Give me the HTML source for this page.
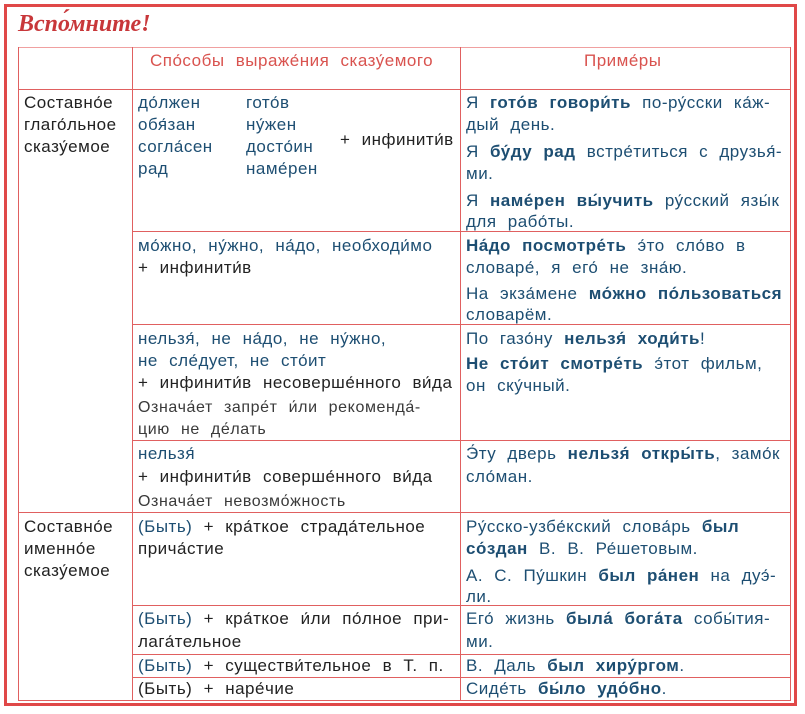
<!DOCTYPE html>
<html><head><meta charset="utf-8"><style>
body{margin:0;width:805px;height:714px;background:#fff;position:relative;overflow:hidden;font-family:"Liberation Sans","DejaVu Sans",sans-serif;}
.frame{position:absolute;left:4px;top:4px;width:793px;height:702px;border:3px solid #e04848;box-sizing:border-box;}
.h{position:absolute;height:1px;background:#e06060;}
.v{position:absolute;width:1px;background:#e06060;}
.t{position:absolute;font-size:17px;line-height:22px;white-space:nowrap;word-spacing:6px;letter-spacing:0.5px;color:#222;}
.b{color:#1d4e72}
.g{color:#3a3a3a;font-size:16px;letter-spacing:0.6px}
b{color:#1d4e72}
.title{position:absolute;left:18px;top:11px;font-family:"Liberation Serif",serif;font-style:italic;font-weight:bold;font-size:24px;color:#c8373a;}
.hd{position:absolute;color:#d9534f;font-size:17px;line-height:22px;word-spacing:6px;letter-spacing:0.5px;white-space:nowrap}
</style></head><body>
<div class="frame"></div>
<div class="title">Вспо́мните!</div>
<div class="h" style="left:18px;top:47px;width:773px;background:#f0a0a0"></div>
<div class="h" style="left:18px;top:89px;width:773px"></div>
<div class="h" style="left:132px;top:231px;width:659px"></div>
<div class="h" style="left:132px;top:324px;width:659px"></div>
<div class="h" style="left:132px;top:440px;width:659px"></div>
<div class="h" style="left:18px;top:512px;width:773px"></div>
<div class="h" style="left:132px;top:605px;width:659px"></div>
<div class="h" style="left:132px;top:654px;width:659px"></div>
<div class="h" style="left:132px;top:677px;width:659px"></div>
<div class="h" style="left:18px;top:700px;width:773px"></div>
<div class="v" style="left:18px;top:47px;height:654px"></div>
<div class="v" style="left:132px;top:47px;height:654px"></div>
<div class="v" style="left:460px;top:47px;height:654px"></div>
<div class="v" style="left:790px;top:47px;height:654px"></div>

<div class="hd" style="left:150px;top:50px">Спо́собы выраже́ния сказу́емого</div>
<div class="hd" style="left:584px;top:50px">Приме́ры</div>

<div class="t" style="left:24px;top:92px">Составно́е</div>
<div class="t" style="left:24px;top:114px">глаго́льное</div>
<div class="t" style="left:24px;top:136px">сказу́емое</div>

<div class="t b" style="left:138px;top:92px">до́лжен</div>
<div class="t b" style="left:138px;top:114px">обя́зан</div>
<div class="t b" style="left:138px;top:136px">согла́сен</div>
<div class="t b" style="left:138px;top:158px">рад</div>
<div class="t b" style="left:246px;top:92px">гото́в</div>
<div class="t b" style="left:246px;top:114px">ну́жен</div>
<div class="t b" style="left:246px;top:136px">досто́ин</div>
<div class="t b" style="left:246px;top:158px">наме́рен</div>
<div class="t" style="left:340px;top:129px">+ инфинити́в</div>

<div class="t b" style="left:466px;top:92px">Я <b>гото́в говори́ть</b> по-ру́сски ка́ж-</div>
<div class="t b" style="left:466px;top:114px">дый день.</div>
<div class="t b" style="left:466px;top:141px">Я <b>бу́ду рад</b> встре́титься с друзья́-</div>
<div class="t b" style="left:466px;top:163px">ми.</div>
<div class="t b" style="left:466px;top:190px">Я <b>наме́рен вы́учить</b> ру́сский язы́к</div>
<div class="t b" style="left:466px;top:211px">для рабо́ты.</div>

<div class="t b" style="left:138px;top:235px">мо́жно, ну́жно, на́до, необходи́мо</div>
<div class="t" style="left:138px;top:257px">+ инфинити́в</div>
<div class="t b" style="left:466px;top:235px"><b>На́до посмотре́ть</b> э́то сло́во в</div>
<div class="t b" style="left:466px;top:257px">словаре́, я его́ не зна́ю.</div>
<div class="t b" style="left:466px;top:283px">На экза́мене <b>мо́жно по́льзоваться</b></div>
<div class="t b" style="left:466px;top:304px">словарём.</div>

<div class="t b" style="left:138px;top:328px">нельзя́, не на́до, не ну́жно,</div>
<div class="t b" style="left:138px;top:350px">не сле́дует, не сто́ит</div>
<div class="t" style="left:138px;top:372px">+ инфинити́в несоверше́нного ви́да</div>
<div class="t g" style="left:138px;top:397px">Означа́ет запре́т и́ли рекоменда́-</div>
<div class="t g" style="left:138px;top:419px">цию не де́лать</div>
<div class="t b" style="left:466px;top:328px">По газо́ну <b>нельзя́ ходи́ть</b>!</div>
<div class="t b" style="left:466px;top:353px"><b>Не сто́ит смотре́ть</b> э́тот фильм,</div>
<div class="t b" style="left:466px;top:375px">он ску́чный.</div>

<div class="t b" style="left:138px;top:443px">нельзя́</div>
<div class="t" style="left:138px;top:466px">+ инфинити́в соверше́нного ви́да</div>
<div class="t g" style="left:138px;top:491px">Означа́ет невозмо́жность</div>
<div class="t b" style="left:466px;top:443px">Э́ту дверь <b>нельзя́ откры́ть</b>, замо́к</div>
<div class="t b" style="left:466px;top:466px">сло́ман.</div>

<div class="t" style="left:24px;top:516px">Составно́е</div>
<div class="t" style="left:24px;top:538px">именно́е</div>
<div class="t" style="left:24px;top:560px">сказу́емое</div>

<div class="t" style="left:138px;top:516px"><span class="b">(Быть)</span> + кра́ткое страда́тельное</div>
<div class="t" style="left:138px;top:538px">прича́стие</div>
<div class="t b" style="left:466px;top:516px">Ру́сско-узбе́кский слова́рь <b>был</b></div>
<div class="t b" style="left:466px;top:538px"><b>со́здан</b> В. В. Ре́шетовым.</div>
<div class="t b" style="left:466px;top:565px">А. С. Пу́шкин <b>был ра́нен</b> на дуэ́-</div>
<div class="t b" style="left:466px;top:586px">ли.</div>

<div class="t" style="left:138px;top:608px"><span class="b">(Быть)</span> + кра́ткое и́ли по́лное при-</div>
<div class="t" style="left:138px;top:631px">лага́тельное</div>
<div class="t b" style="left:466px;top:608px">Его́ жизнь <b>была́ бога́та</b> собы́тия-</div>
<div class="t b" style="left:466px;top:631px">ми.</div>

<div class="t" style="left:138px;top:655px"><span class="b">(Быть)</span> + существи́тельное в Т. п.</div>
<div class="t b" style="left:466px;top:655px">В. Даль <b>был хиру́ргом</b>.</div>

<div class="t" style="left:138px;top:678px">(Быть) + наре́чие</div>
<div class="t b" style="left:466px;top:678px">Сиде́ть <b>бы́ло удо́бно</b>.</div>
</body></html>
